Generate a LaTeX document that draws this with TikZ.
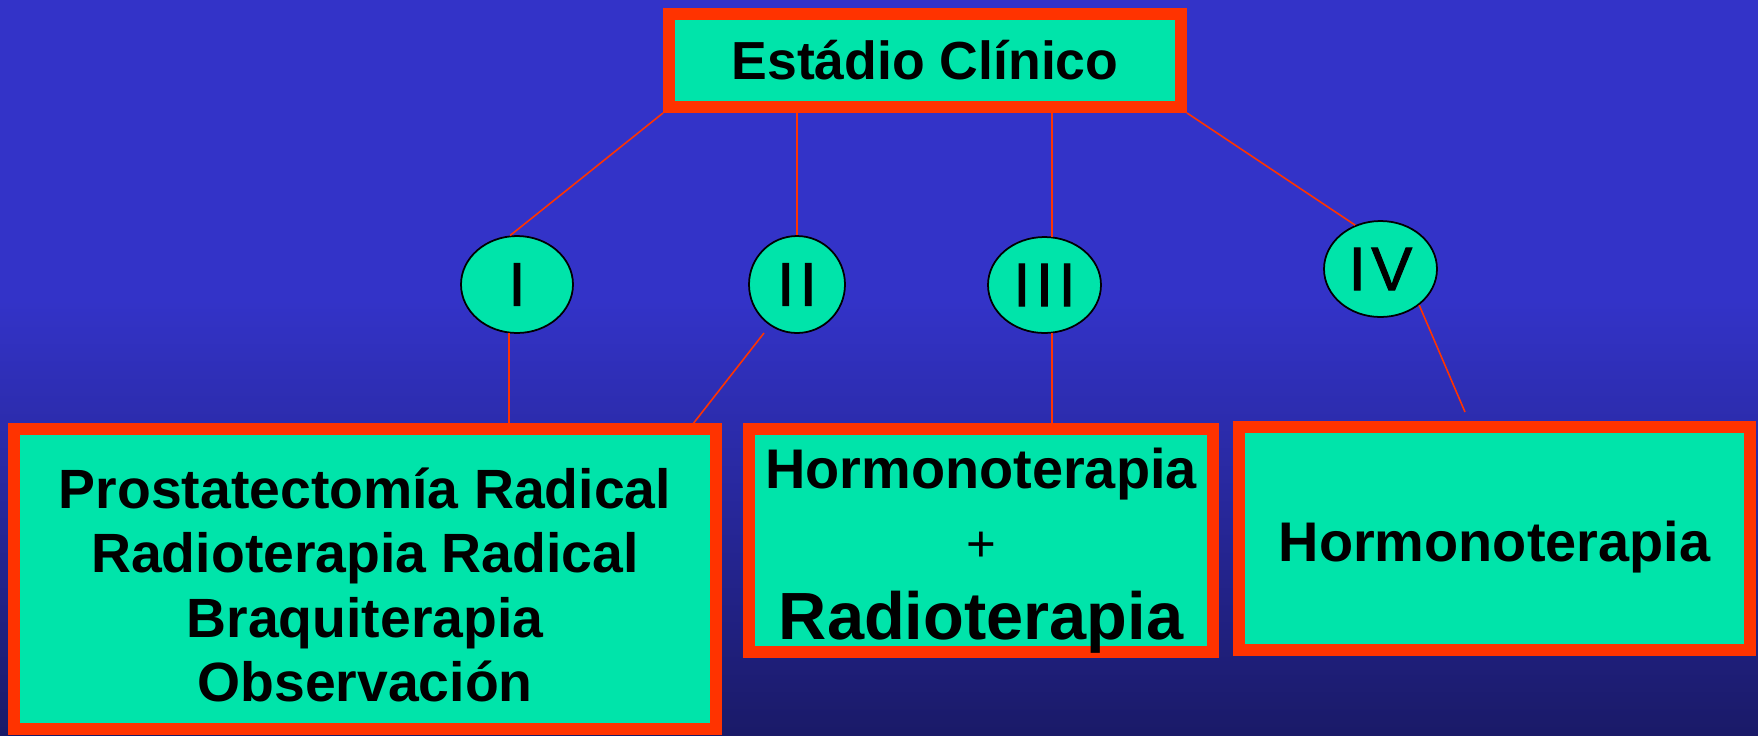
\documentclass[tikz,border=0pt]{standalone}
\usepackage{fontspec}
\setmainfont{Liberation Sans}
\newfontfamily\romfont[LetterSpace=9,FakeBold=1.5]{Liberation Sans}
\usepackage{tikz}
\usetikzlibrary{shapes.geometric}

\definecolor{fondo}{RGB}{51,51,200}
\definecolor{fondobajo}{RGB}{26,26,104}
\definecolor{verde}{RGB}{0,228,170}
\definecolor{rojo}{RGB}{255,51,0}

\tikzset{
  caja/.style={draw=rojo, line width=6.8pt, fill=verde, inner sep=0pt, align=center},
  estadio/.style={ellipse, draw=black, line width=1pt, fill=verde, inner sep=0pt,
    font=\romfont\fontsize{35}{40}\selectfont},
  rama/.style={draw=rojo, line width=0.9pt},
  texto/.style={anchor=base, inner sep=0pt, align=center}
}

\begin{document}
\begin{tikzpicture}[x=0.02cm, y=0.02cm]
\useasboundingbox (0,0) rectangle (1758,-735);
% fondo
\fill [fondo] (0,0) rectangle (1758,-735);
\shade [top color=fondo, bottom color=fondobajo] (0,-300) rectangle (1758,-735);
% cajas
\node [caja, minimum width=10.24cm, minimum height=1.86cm,
  font=\bfseries\fontsize{30.5}{36}\selectfont] (top) at (925,-60.5) {Estádio Clínico};
\node [caja, minimum width=14.04cm, minimum height=6cm] (left) at (365,-579) {};
\node [texto, anchor=center, font=\bfseries\fontsize{31.5}{36.7}\selectfont] (left1) at (365,-585)
  {Prostatectomía Radical\\Radioterapia Radical\\Braquiterapia\\Observación};
\node [caja, minimum width=9.28cm, minimum height=4.46cm] (mid) at (981,-540.5) {};
\node [texto, font=\bfseries\fontsize{31.8}{36}\selectfont] (mid1) at (981,-488) {Hormonoterapia};
\node [texto, font=\fontsize{29}{34}\selectfont] (mid2) at (981,-561) {+};
\node [texto, font=\bfseries\fontsize{38}{44}\selectfont] (mid3) at (981,-639) {Radioterapia};
\node [caja, minimum width=10.22cm, minimum height=4.46cm] (right) at (1494.5,-538.5) {};
\node [texto, font=\bfseries\fontsize{31.8}{36}\selectfont] (right1) at (1494.5,-561) {Hormonoterapia};
% estadios
\node [estadio, minimum width=2.24cm, minimum height=1.94cm] (I) at (517,-284.5) {I};
\node [estadio, minimum width=1.92cm, minimum height=1.94cm] (II) at (797,-284.5) {II};
\node [estadio, minimum width=2.26cm, minimum height=1.92cm] (III) at (1044.5,-285) {III};
\node [estadio, minimum width=2.26cm, minimum height=1.92cm] (IV) at (1380.5,-269) {IV};
\coordinate (IIfoot) at (764,-333);
\coordinate (IIhead) at (689,-429);
\coordinate (IVend) at (1465,-412);
% ramas
\draw [rama] (top.south west) -- (I.98);
\draw [rama] (II.north) -- (II.north |- top.south);
\draw [rama] (III.81) -- (III.81 |- top.south);
\draw [rama] (top.south east) -- (IV.120);
\draw [rama] (I.-99) -- (I.-99 |- left.north);
\draw [rama] (IIfoot) -- (IIhead);
\draw [rama] (III.-81) -- (III.-81 |- mid.north);
\draw [rama] (IV.-43) -- (IVend);
\end{tikzpicture}
\end{document}
